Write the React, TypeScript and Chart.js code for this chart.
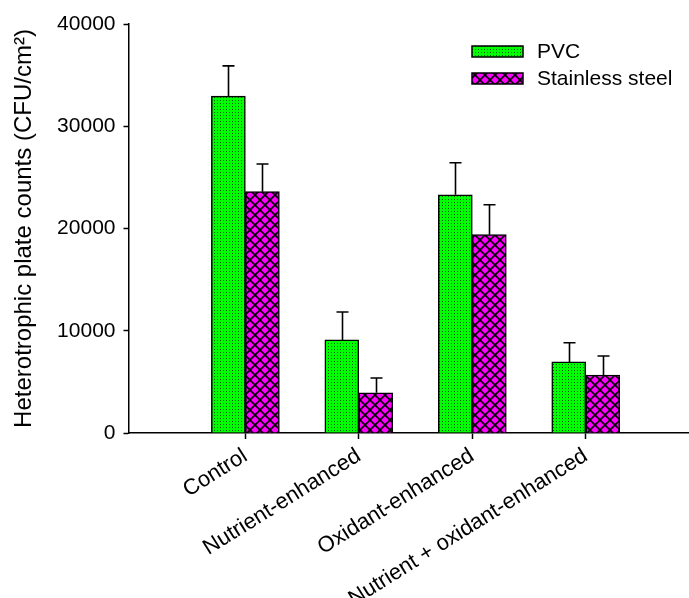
import React, { useEffect, useRef } from 'react';
import { Chart, registerables } from 'chart.js';

Chart.register(...registerables);

// Treatments along the x axis
const categories = ['Control', 'Nutrient-enhanced', 'Oxidant-enhanced', 'Nutrient + oxidant-enhanced'];
const categoryPositions = [1, 2, 3, 4];

// Heterotrophic plate counts (CFU/cm²), mean and standard deviation
const pvcMeans = [32950, 9100, 23300, 6950];
const pvcErrors = [2950, 2730, 3130, 1880];
const steelMeans = [23600, 3940, 19400, 5670];
const steelErrors = [2710, 1440, 2930, 1860];

const seriesNames = ['PVC', 'Stainless steel'];
const yTicks = [0, 10000, 20000, 30000, 40000];

const FONT = '"Liberation Sans", Arial, sans-serif';

function dotPattern(): CanvasPattern | string {
  const c = document.createElement('canvas');
  c.width = 3;
  c.height = 3;
  const g = c.getContext('2d');
  if (!g) return '#00ff00';
  g.fillStyle = '#00ff00';
  g.fillRect(0, 0, 3, 3);
  g.fillStyle = '#0a5a0a';
  g.fillRect(1, 1, 1, 1);
  return g.createPattern(c, 'repeat') || '#00ff00';
}

function crossHatchPattern(): CanvasPattern | string {
  const s = 10;
  const c = document.createElement('canvas');
  c.width = s;
  c.height = s;
  const g = c.getContext('2d');
  if (!g) return '#ff00ff';
  g.fillStyle = '#ff00ff';
  g.fillRect(0, 0, s, s);
  g.strokeStyle = '#000000';
  g.lineWidth = 1.6;
  for (const off of [-s, 0, s]) {
    g.beginPath();
    g.moveTo(off - 1, -1);
    g.lineTo(off + s + 1, s + 1);
    g.stroke();
    g.beginPath();
    g.moveTo(off + s + 1, -1);
    g.lineTo(off - 1, s + 1);
    g.stroke();
  }
  return g.createPattern(c, 'repeat') || '#ff00ff';
}

const errorBarPlugin = {
  id: 'errorBars',
  afterDatasetsDraw(chart: any) {
    const { ctx } = chart;
    const yScale = chart.scales.y;
    const errors = [pvcErrors, steelErrors];
    const means = [pvcMeans, steelMeans];
    ctx.save();
    ctx.strokeStyle = '#000';
    ctx.lineWidth = 1.6;
    chart.data.datasets.forEach((_: any, di: number) => {
      const meta = chart.getDatasetMeta(di);
      meta.data.forEach((bar: any, i: number) => {
        const top = yScale.getPixelForValue(means[di][i] + errors[di][i]);
        const x = Math.round(bar.x) + 0.5;
        ctx.beginPath();
        ctx.moveTo(x, bar.y);
        ctx.lineTo(x, top);
        ctx.moveTo(x - 6, top);
        ctx.lineTo(x + 6, top);
        ctx.stroke();
      });
    });
    ctx.restore();
  },
};

const legendPlugin = {
  id: 'insideLegend',
  afterDraw(chart: any) {
    const { ctx } = chart;
    const boxX = 472;
    const boxW = 51;
    const boxH = 11;
    const rowY = [46, 73];
    ctx.save();
    chart.data.datasets.forEach((ds: any, i: number) => {
      const y = rowY[i];
      ctx.fillStyle = ds.backgroundColor;
      ctx.fillRect(boxX, y, boxW, boxH);
      ctx.strokeStyle = '#000';
      ctx.lineWidth = 1.5;
      ctx.strokeRect(boxX, y, boxW, boxH);
      ctx.fillStyle = '#000';
      ctx.font = `21px ${FONT}`;
      ctx.textBaseline = 'middle';
      ctx.textAlign = 'left';
      ctx.fillText(seriesNames[i], 537, y + boxH / 2 + 1);
    });
    ctx.restore();
  },
};

export default function App() {
  const canvasRef = useRef<HTMLCanvasElement | null>(null);

  useEffect(() => {
    const canvas = canvasRef.current;
    if (!canvas) return;
    const chart = new Chart(canvas, {
      type: 'bar',
      data: {
        datasets: [
          {
            label: seriesNames[0],
            data: categoryPositions.map((x, i) => ({ x, y: pvcMeans[i] })),
            backgroundColor: dotPattern() as any,
            borderColor: '#000',
            borderWidth: 1.5,
            barThickness: 34,
          },
          {
            label: seriesNames[1],
            data: categoryPositions.map((x, i) => ({ x, y: steelMeans[i] })),
            backgroundColor: crossHatchPattern() as any,
            borderColor: '#000',
            borderWidth: 1.5,
            barThickness: 34,
          },
        ],
      },
      options: {
        responsive: false,
        animation: false,
        layout: { padding: { top: 24, left: 0, right: 0, bottom: 0 } },
        plugins: {
          legend: { display: false },
          tooltip: { enabled: false },
        },
        scales: {
          x: {
            type: 'linear',
            offset: false,
            min: -0.03,
            max: 4.91,
            afterBuildTicks: (axis: any) => {
              axis.ticks = categoryPositions.map((v) => ({ value: v }));
            },
            afterFit: (axis: any) => {
              axis.height = 165;
            },
            grid: {
              offset: false,
              drawOnChartArea: false,
              drawTicks: true,
              tickLength: 6,
              tickWidth: 1.5,
              color: '#000',
            },
            border: { display: true, color: '#000', width: 1.5 },
            ticks: {
              autoSkip: false,
              maxRotation: 32,
              minRotation: 32,
              padding: 4,
              color: '#000',
              font: { family: FONT, size: 22 },
              callback: (v: any) => categories[Number(v) - 1] ?? '',
            },
          },
          y: {
            min: 0,
            max: 40000,
            afterBuildTicks: (axis: any) => {
              axis.ticks = yTicks.map((v) => ({ value: v }));
            },
            afterFit: (axis: any) => {
              axis.width = 128.5;
            },
            grid: {
              drawOnChartArea: false,
              drawTicks: true,
              tickLength: 5,
              tickWidth: 1.5,
              color: '#000',
            },
            border: { display: true, color: '#000', width: 1.5 },
            ticks: {
              padding: 8,
              color: '#000',
              font: { family: FONT, size: 21 },
              callback: (v: any) => String(v),
            },
            title: {
              display: true,
              text: 'Heterotrophic plate counts (CFU/cm²)',
              color: '#000',
              font: { family: FONT, size: 24 },
              padding: { top: 10, bottom: 0 },
            },
          },
        },
      },
      plugins: [errorBarPlugin, legendPlugin],
    });
    return () => chart.destroy();
  }, []);

  return (
    <div style={{ position: 'fixed', left: 0, top: 0, width: 689, height: 598, background: '#fff' }}>
      <canvas ref={canvasRef} width={689} height={598} />
    </div>
  );
}
